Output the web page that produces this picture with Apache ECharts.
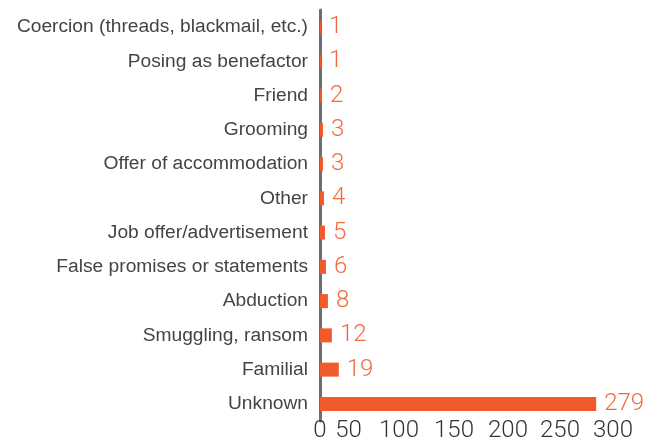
<!DOCTYPE html>
<html>
<head>
<meta charset="utf-8">
<script src="https://cdn.jsdelivr.net/npm/echarts@6/dist/echarts.min.js"></script>
<style>
  html, body { margin: 0; padding: 0; background: #fff; }
  #chart { width: 645px; height: 443px; }
</style>
</head>
<body>
<div id="chart"></div>
<script>
// Recruitment methods reported, top to bottom
const categories = [
  'Coercion (threads, blackmail, etc.)',
  'Posing as benefactor',
  'Friend',
  'Grooming',
  'Offer of accommodation',
  'Other',
  'Job offer/advertisement',
  'False promises or statements',
  'Abduction',
  'Smuggling, ransom',
  'Familial',
  'Unknown'
];
const counts = [1, 1, 2, 3, 3, 4, 5, 6, 8, 12, 19, 279];
const tickValues = [0, 50, 100, 150, 200, 250, 300];
// right padding per tick label, pulls the lower labels closer together
const tickPad = [0, 42, 40, 29, 20, 15, 8];

const ORANGE = '#f15a2b';
const LABEL_ORANGE = '#f26a3f';
const TEXT = '#333333';
const NUM_FONT = 'Roboto, "Liberation Sans", sans-serif';
const CAT_FONT = '"Liberation Sans", Arial, sans-serif';

const rich = {};
tickValues.forEach((v, i) => {
  rich['t' + i] = {
    fontFamily: NUM_FONT, fontWeight: 300, fontSize: 24, color: TEXT,
    padding: [0, tickPad[i], 0, 0]
  };
});

const chart = echarts.init(document.getElementById('chart'), null, { renderer: 'canvas' });
chart.setOption({
  animation: false,
  grid: { left: 320, top: 10, width: 297, height: 416, containLabel: false },
  xAxis: {
    type: 'value',
    min: 0, max: 300, interval: 50,
    axisLine: { show: false },
    axisTick: { show: false },
    splitLine: { show: false },
    axisLabel: {
      margin: -2,
      showMaxLabel: true,
      formatter: function (v) {
        const i = tickValues.indexOf(v);
        return i < 0 ? '' : '{t' + i + '|' + v + '}';
      },
      rich: rich
    }
  },
  yAxis: {
    type: 'category',
    inverse: true,
    data: categories,
    axisLine: { show: true, lineStyle: { color: '#6d6e71', width: 3 } },
    axisTick: { show: false },
    axisLabel: {
      margin: 12,
      fontFamily: CAT_FONT,
      fontSize: 19.2,
      color: '#444444'
    }
  },
  series: [{
    type: 'bar',
    data: counts,
    barWidth: 14,
    itemStyle: { color: ORANGE },
    label: {
      show: true,
      position: 'right',
      distance: 8,
      fontFamily: NUM_FONT,
      fontWeight: 300,
      fontSize: 24,
      color: LABEL_ORANGE
    }
  }]
});
</script>
</body>
</html>
